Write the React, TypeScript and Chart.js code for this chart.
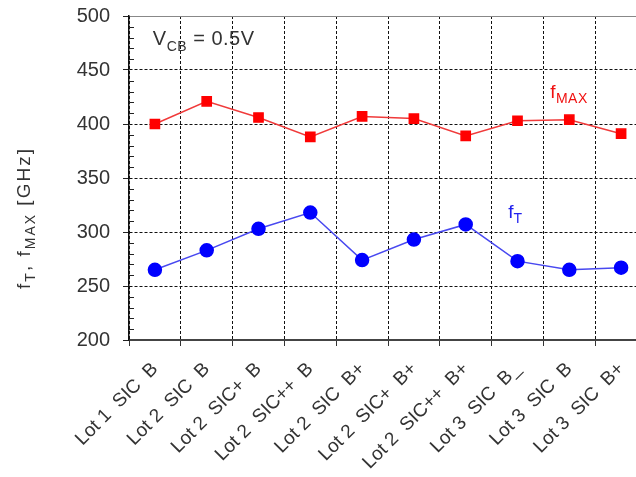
import { useEffect, useRef } from "react";
import { Chart, registerables } from "chart.js";
Chart.register(...registerables);

const categories = [
  "Lot 1  SIC  B",
  "Lot 2  SIC  B",
  "Lot 2  SIC+  B",
  "Lot 2  SIC++  B",
  "Lot 2  SIC  B+",
  "Lot 2  SIC+  B+",
  "Lot 2  SIC++  B+",
  "Lot 3  SIC  B_",
  "Lot 3  SIC  B",
  "Lot 3  SIC  B+",
];
const fMax = [400, 421, 406, 388, 407, 405, 389, 403, 404, 391];
const fT = [265, 283, 303, 318, 274, 293, 307, 273, 265, 267];
const yMin = 200;
const yMax = 500;
const yStep = 50;
const minorStep = 10;

const FONT = "'Liberation Sans', Arial, sans-serif";

type Run = { t: string; sub?: boolean };

function drawRuns(ctx: CanvasRenderingContext2D, runs: Run[], x: number, y: number, size: number, color: string, align: "left" | "center", spacing = 0) {
  const subSize = Math.round(size * 0.72);
  (ctx as any).letterSpacing = `${spacing}px`;
  let total = 0;
  for (const r of runs) {
    ctx.font = `${r.sub ? subSize : size}px ${FONT}`;
    total += ctx.measureText(r.t).width;
  }
  let cx = align === "center" ? x - total / 2 : x;
  ctx.fillStyle = color;
  ctx.textBaseline = "alphabetic";
  ctx.textAlign = "left";
  for (const r of runs) {
    ctx.font = `${r.sub ? subSize : size}px ${FONT}`;
    ctx.fillText(r.t, cx, r.sub ? y + size * 0.28 : y);
    cx += ctx.measureText(r.t).width;
  }
  (ctx as any).letterSpacing = "0px";
}

const extras = {
  id: "extras",
  afterDraw(chart: any) {
    const { ctx, chartArea, scales } = chart;
    const xs = scales.x;
    const ys = scales.y;
    ctx.save();
    // minor ticks
    ctx.strokeStyle = "#222";
    ctx.lineWidth = 1;
    for (let v = yMin; v <= yMax; v += minorStep) {
      if (v % yStep === 0) continue;
      const py = Math.round(ys.getPixelForValue(v)) + 0.5;
      ctx.beginPath();
      ctx.moveTo(chartArea.left, py);
      ctx.lineTo(chartArea.left + 5, py);
      ctx.stroke();
    }
    // annotations
    drawRuns(ctx, [{ t: "V" }, { t: "CB", sub: true }, { t: " = 0.5V" }], xs.getPixelForValue(-0.04), ys.getPixelForValue(473), 20, "#333", "left", 0.5);
    drawRuns(ctx, [{ t: "f" }, { t: "MAX", sub: true }], xs.getPixelForValue(7.63), ys.getPixelForValue(424), 19, "#f01010", "left", 0.5);
    drawRuns(ctx, [{ t: "f" }, { t: "T", sub: true }], xs.getPixelForValue(6.82), ys.getPixelForValue(313), 19, "#2020ee", "left");
    // y title
    ctx.translate(24, 218);
    ctx.rotate(-Math.PI / 2);
    drawRuns(ctx, [{ t: "f" }, { t: "T", sub: true }, { t: ", f" }, { t: "MAX", sub: true }, { t: " [GHz]" }], 0, 6, 19, "#333", "center", 2);
    ctx.restore();
  },
};

export default function App() {
  const ref = useRef<HTMLCanvasElement>(null);
  useEffect(() => {
    if (!ref.current) return;
    const chart = new Chart(ref.current, {
      type: "line",
      data: {
        labels: categories,
        datasets: [
          {
            label: "fMAX",
            data: fMax,
            borderColor: "#f03a3a",
            backgroundColor: "#ff0000",
            pointBackgroundColor: "#ff0000",
            pointBorderColor: "#ff0000",
            pointStyle: "rect",
            pointRadius: 6.5,
            borderWidth: 1.5,
          },
          {
            label: "fT",
            data: fT,
            borderColor: "#4848f0",
            backgroundColor: "#0000ff",
            pointBackgroundColor: "#0000ff",
            pointBorderColor: "#0000ff",
            pointStyle: "circle",
            pointRadius: 6.5,
            borderWidth: 1.5,
          },
        ],
      },
      options: {
        animation: false,
        responsive: false,
        layout: { padding: { top: 16, right: 13, left: 0, bottom: 0 } },
        plugins: { legend: { display: false }, tooltip: { enabled: false } },
        scales: {
          x: {
            type: "category",
            offset: true,
            grid: {
              offset: true,
              color: "#111",
              lineWidth: 1,
              tickLength: 6,
              tickColor: "#333",
            },
            border: { display: true, color: "#444", width: 2, dash: [3, 2] },
            ticks: {
              autoSkip: false,
              minRotation: 45,
              maxRotation: 45,
              color: "#333",
              font: { family: FONT, size: 19 },
              padding: 12,
            },
            afterFit: (s: any) => {
              s.height = 137;
              s.paddingLeft = 0;
              s.paddingRight = 0;
            },
          },
          y: {
            min: yMin,
            max: yMax,
            ticks: {
              stepSize: yStep,
              color: "#333",
              font: { family: FONT, size: 20 },
              padding: 13,
            },
            grid: {
              color: (c: any) => (c.tick && c.tick.value === yMax ? "#888" : "#111"),
              lineWidth: 1,
              tickLength: 6,
              tickColor: "#222",
            },
            border: {
              display: true,
              color: "#111",
              width: 1.5,
              dash: (c: any) => (c.tick && c.tick.value === yMax ? [] : [3, 2]),
            },
            afterFit: (s: any) => {
              s.width = 129;
              s.paddingTop = 0;
              s.paddingBottom = 0;
            },
          },
        },
      },
      plugins: [extras],
    } as any);
    return () => chart.destroy();
  }, []);
  return (
    <div style={{ position: "fixed", left: 0, top: 0, width: 636, height: 477, overflow: "hidden", background: "#fff" }}>
      <canvas ref={ref} width={660} height={477} style={{ display: "block" }} />
    </div>
  );
}
